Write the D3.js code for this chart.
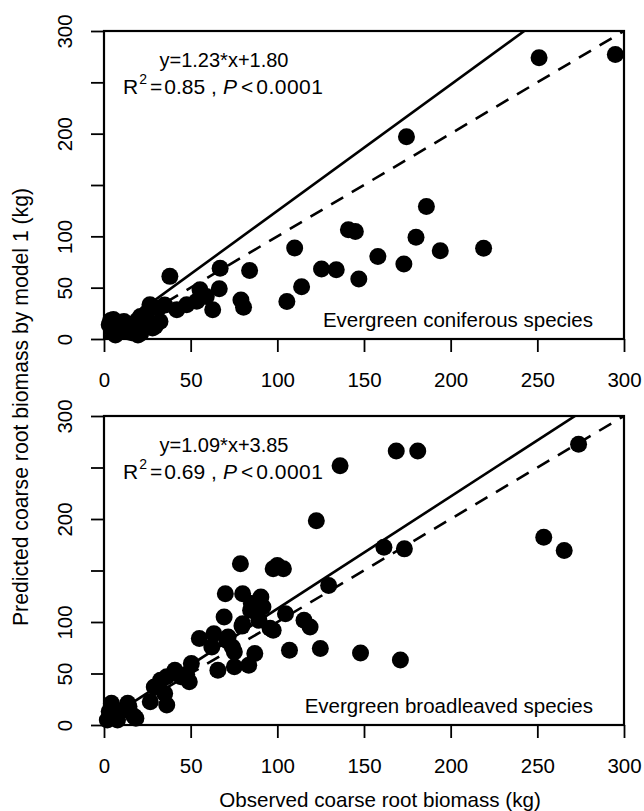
<!DOCTYPE html>
<html>
<head>
<meta charset="utf-8">
<script src="https://cdn.jsdelivr.net/npm/d3@7"></script>
<style>
  body { margin: 0; background: #fff; }
  svg text { font-family: "Liberation Sans", Arial, sans-serif; fill: #000; }
</style>
</head>
<body>
<div id="chart"></div>
<script>
// evergreen coniferous species (top panel)
var obsConifer = [295, 251, 174.5, 186, 141, 145, 180, 110, 194, 219,
  158, 173, 125.5, 134, 67, 84, 147, 114, 66.5, 38,
  79, 80.5, 105.5, 62.7, 55.4, 59, 53.5, 47.7, 42, 35,
  31.4, 26.5, 24.6, 29.4, 32.3, 28, 21, 19.2, 16, 11.5,
  9, 5.4, 3.8, 3, 4.8, 6.6, 11, 13.5, 16, 19.6,
  21.2, 23, 13.7];
var predConifer = [277, 274, 197, 129, 106.4, 104.8, 99, 88.6, 86, 88.4,
  80.4, 73, 68.2, 67.5, 69, 66.8, 58.4, 51, 49, 61,
  38, 31, 36.6, 28.5, 48, 41.5, 36.7, 33.4, 28.5, 33,
  30, 33.4, 25.3, 12.3, 17, 10.7, 22, 18, 14, 17,
  12, 19, 18, 14, 8.6, 4, 7.5, 7, 6, 4,
  5.5, 12, 10.7];

// evergreen broadleaved species (bottom panel)
var obsBroad = [273.8, 168.6, 181, 136.2, 122.5, 253.7, 265.5, 161.5, 173.3, 78.7,
  97.6, 103.5, 100, 129.6, 70, 80, 90.5, 91.7, 84.6, 69.3,
  80, 89.4, 97.6, 104.7, 115.4, 118.9, 107, 124.8, 148, 171,
  55, 63.4, 62.2, 71.6, 75.2, 74, 65.7, 75.2, 83.5, 87,
  50.4, 49.2, 40.9, 36.2, 44.4, 29, 35, 26.7, 36.2, 32.6,
  4.3, 3, 13.7, 11.3, 18.4, 7.8, 1.9, 85, 95.8, 79.6,
  70.8, 47.7, 17.3, 14.4];
var predBroad = [272.6, 266, 266, 251.6, 198.4, 182.3, 169.4, 172.6, 171, 156.5,
  151.6, 151.6, 154.8, 135.5, 127.4, 127.4, 124.2, 114.5, 111.3, 104.8,
  98.4, 101.6, 92, 108, 101.6, 95.2, 72.6, 74.2, 70, 63,
  83.9, 88.7, 75.8, 85.5, 71, 75.8, 53.2, 56.5, 58, 69.4,
  59.7, 42, 53.2, 46.8, 46.8, 37, 30.6, 22.6, 19.4, 43.5,
  21, 13, 21, 14.5, 6.5, 4.8, 4.8, 118, 94, 96,
  82, 49, 8.4, 18];

// fits: [slope, intercept], r2
var fitConifer = [1.23, 1.80];
var fitBroad = [1.09, 3.85];
var r2Conifer = "0.85";
var r2Broad = "0.69";
var groupNames = ["Evergreen coniferous species", "Evergreen broadleaved species"];

var axisDomain = [0, 300];
var xTicks = [0, 50, 100, 150, 200, 250, 300];
var yTicks = [0, 50, 100, 150, 200, 250, 300];
var yLabelled = [0, 50, 100, 200, 300];   // R drops the overlapping ones
var xTitle = "Observed coarse root biomass (kg)";
var yTitle = "Predicted coarse root biomass by model 1 (kg)";

var attrs = {
  width: 644,
  height: 811,
  left: 104,
  right: 624,
  panels: [{ top: 31, bottom: 339 }, { top: 416, bottom: 725 }],
  fontSize: 20.5,
  radius: 8.5
};

var svg = d3.select("#chart").append("svg")
  .attr("width", attrs.width)
  .attr("height", attrs.height);

var x = d3.scaleLinear().domain(axisDomain).range([attrs.left, attrs.right]);

var panelData = [
  { obs: obsConifer, pred: predConifer, fit: fitConifer, r2: r2Conifer, name: groupNames[0] },
  { obs: obsBroad, pred: predBroad, fit: fitBroad, r2: r2Broad, name: groupNames[1] }
];

panelData.forEach(function (d, i) {
  var p = attrs.panels[i];
  var y = d3.scaleLinear().domain(axisDomain).range([p.bottom, p.top]);
  var g = svg.append("g").attr("class", "panel-" + i);

  var clipId = "clip" + i;
  svg.append("clipPath").attr("id", clipId)
    .append("rect")
    .attr("x", attrs.left).attr("y", p.top)
    .attr("width", attrs.right - attrs.left)
    .attr("height", p.bottom - p.top);

  var lines = g.append("g").attr("clip-path", "url(#" + clipId + ")");

  // 1:1 line
  lines.append("line")
    .attr("x1", x(axisDomain[0])).attr("y1", y(axisDomain[0]))
    .attr("x2", x(axisDomain[1])).attr("y2", y(axisDomain[1]))
    .attr("stroke", "#000")
    .attr("stroke-width", 2.6)
    .attr("stroke-dasharray", "14,10");

  // regression line
  var xEnd = axisDomain[1];
  lines.append("line")
    .attr("x1", x(0)).attr("y1", y(d.fit[1]))
    .attr("x2", x(xEnd)).attr("y2", y(d.fit[0] * xEnd + d.fit[1]))
    .attr("stroke", "#000")
    .attr("stroke-width", 2.6);

  g.append("g").selectAll("circle")
    .data(d.obs.map(function (o, k) { return [o, d.pred[k]]; }))
    .enter().append("circle")
    .attr("cx", function (v) { return x(v[0]); })
    .attr("cy", function (v) { return y(v[1]); })
    .attr("r", attrs.radius)
    .attr("fill", "#000");

  // axes
  var xAxis = g.append("g")
    .attr("transform", "translate(0," + p.bottom + ")")
    .call(d3.axisBottom(x).tickValues(xTicks).tickSize(13).tickPadding(20));
  xAxis.select(".domain").remove();
  xAxis.selectAll(".tick line").attr("stroke-width", 1.8);
  xAxis.selectAll(".tick text")
    .attr("font-size", attrs.fontSize)
    .attr("font-family", null)
    .attr("dy", "0.71em");

  var yAxis = g.append("g")
    .attr("transform", "translate(" + attrs.left + ",0)")
    .call(d3.axisLeft(y).tickValues(yTicks).tickSize(13)
      .tickFormat(function (v) { return yLabelled.indexOf(v) >= 0 ? v : ""; }));
  yAxis.select(".domain").remove();
  yAxis.selectAll(".tick line").attr("stroke-width", 1.8);
  yAxis.selectAll(".tick text")
    .attr("font-size", attrs.fontSize)
    .attr("font-family", null)
    .attr("text-anchor", "middle")
    .attr("x", 0)
    .attr("y", -32)
    .attr("dy", null)
    .attr("transform", "rotate(-90)");

  // box
  g.append("rect")
    .attr("x", attrs.left).attr("y", p.top)
    .attr("width", attrs.right - attrs.left)
    .attr("height", p.bottom - p.top)
    .attr("fill", "none")
    .attr("stroke", "#000")
    .attr("stroke-width", 2.2);

  // equation + stats
  var sign = d.fit[1] >= 0 ? "+" : "";
  g.append("text")
    .attr("x", 224).attr("y", p.top + 36)
    .attr("text-anchor", "middle")
    .attr("font-size", 20)
    .text("y=" + d.fit[0].toFixed(2) + "*x" + sign + d.fit[1].toFixed(2));

  var stat = g.append("text")
    .attr("x", 123).attr("y", p.top + 63)
    .attr("font-size", 21);
  stat.append("tspan").text("R");
  stat.append("tspan").attr("font-size", 14).attr("dx", 1).attr("dy", -10).text("2");
  stat.append("tspan").attr("dx", 3).attr("dy", 10).text("=");
  stat.append("tspan").attr("dx", 2).text(d.r2);
  stat.append("tspan").attr("dx", 6).text(",");
  stat.append("tspan").attr("dx", 6).attr("font-style", "italic").text("P");
  stat.append("tspan").attr("dx", 4).text("<");
  stat.append("tspan").attr("dx", 3).attr("letter-spacing", 0.5).text("0.0001");

  g.append("text")
    .attr("x", 593).attr("y", p.bottom - 12)
    .attr("text-anchor", "end")
    .attr("font-size", 20.5)
    .text(d.name);
});

svg.append("text")
  .attr("x", 380).attr("y", 807)
  .attr("text-anchor", "middle")
  .attr("font-size", 20.6)
  .text(xTitle);

svg.append("text")
  .attr("transform", "translate(28,407) rotate(-90)")
  .attr("text-anchor", "middle")
  .attr("font-size", 21.2)
  .text(yTitle);
</script>
</body>
</html>
